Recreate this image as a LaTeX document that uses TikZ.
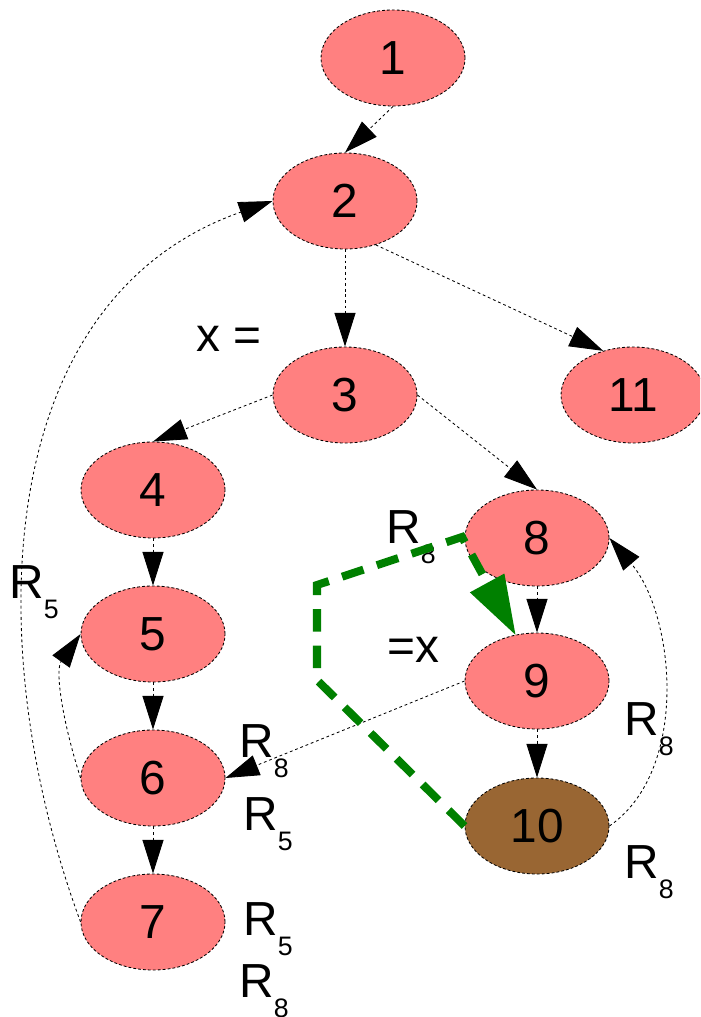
\documentclass[tikz,border=0pt]{standalone}
\usepackage{fontspec}
\setmainfont{Liberation Sans}
\usepackage{tikz}
\usetikzlibrary{shapes.geometric, arrows.meta}
\definecolor{stmtred}{RGB}{255, 128, 128}
\definecolor{stmtbrown}{RGB}{153, 102, 51}
\definecolor{tracegreen}{RGB}{0, 128, 0}
\newcommand{\reg}[1]{R\raisebox{-0.42em}{\fontsize{19}{21}\selectfont #1}}
\tikzstyle{stmt} = [
    ellipse,
    minimum width=3.6cm,
    minimum height=2.4cm,
    inner sep=0pt,
    draw=black,
    line width=0.6pt,
    dash pattern=on 2pt off 1.5pt,
    fill=stmtred,
    font=\fontsize{34}{37}\selectfont
]
\tikzstyle{flow} = [
    line width=0.6pt,
    dash pattern=on 2pt off 2pt,
    -{Triangle[length=24pt, width=15pt]}
]
\tikzstyle{lbl} = [
    inner sep=0pt,
    anchor=base west,
    font=\fontsize{34}{37}\selectfont
]
\tikzstyle{trace} = [
    line width=5.7pt,
    color=tracegreen,
    dash pattern=on 16pt off 10pt,
    -{Triangle[length=42pt, width=28pt, line width=0pt]}
]

\begin{document}
\begin{tikzpicture}[x=0.025cm, y=0.025cm]
        \clip (0, 0) rectangle (700, -1017);
        % Statements
        \node[stmt] (n1) at (393, -58) {1};
        \node[stmt] (n2) at (345, -201) {2};
        \node[stmt] (n3) at (345, -395) {3};
        \node[stmt] (n4) at (153, -490) {4};
        \node[stmt] (n5) at (153, -634) {5};
        \node[stmt] (n6) at (153, -778) {6};
        \node[stmt] (n7) at (153, -922) {7};
        \node[stmt] (n8) at (537, -538) {8};
        \node[stmt] (n9) at (537, -681) {9};
        \node[stmt, fill=stmtbrown] (n10) at (537, -826) {10};
        \node[stmt] (n11) at (633, -395) {11};

        % Labels
        \node[lbl] (def) at (196, -351) {x =};
        \node[lbl] (use) at (387, -662) {=x};
        \node[lbl] (r5a) at (9, -598) {\reg{5}};
        \node[lbl] (r8a) at (239, -757) {\reg{8}};
        \node[lbl] (r5b) at (243, -830) {\reg{5}};
        \node[lbl] (r5c) at (243, -935) {\reg{5}};
        \node[lbl] (r8b) at (239, -997) {\reg{8}};
        \node[lbl] (r8c) at (386, -543) {\reg{8}};
        \node[lbl] (r8d) at (624, -735) {\reg{8}};
        \node[lbl] (r8e) at (624, -878) {\reg{8}};

        % Control flow
        \draw[flow] (n1.south) -- (n2.north);
        \draw[flow] (n2.south) -- (n3.north);
        \draw[flow] (n2.-55) -- (n11.124);
        \draw[flow] (n3.west) -- (n4.north);
        \draw[flow] (n3.east) -- (n8.north);
        \draw[flow] (n4.south) -- (n5.north);
        \draw[flow] (n5.south) -- (n6.north);
        \draw[flow] (n6.south) -- (n7.north);
        \draw[flow] (n8.south) -- (n9.north);
        \draw[flow] (n9.south) -- (n10.north);
        \draw[flow] (n9.west) -- (n6.east);
        \draw[flow] (n6.west) .. controls (62, -720) and (55, -670) .. (n5.west);
        \draw[flow] (n7.west) .. controls (-20, -650) and (-10, -300) .. (n2.west);
        \draw[flow] (n10.east) .. controls (690, -770) and (675, -615) .. (n8.east);

        % Highlighted path
        \coordinate (bend1) at (317, -680);
        \coordinate (bend2) at (317, -585);
        \coordinate (bend3) at (462, -537);
        \draw[trace] (n10.west) -- (bend1) -- (bend2) -- (bend3) -- (n9.115);
    \end{tikzpicture}
\end{document}
